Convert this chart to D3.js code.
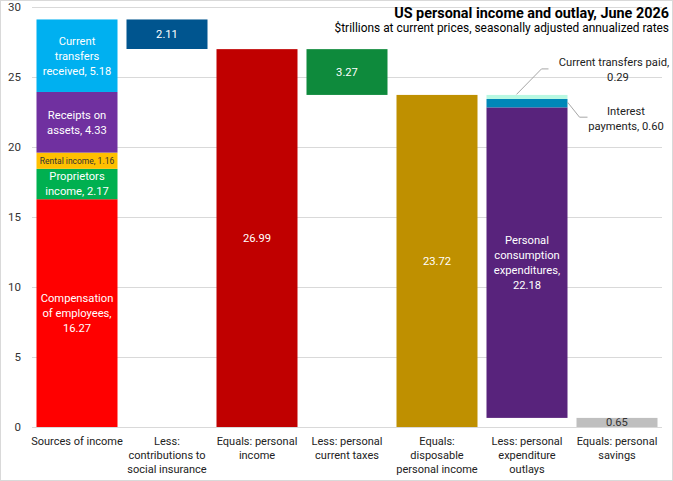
<!DOCTYPE html>
<html>
<head>
<meta charset="utf-8">
<script src="https://cdn.jsdelivr.net/npm/d3@7"></script>
<style>
  body { margin: 0; background: #fff; }
  svg text { font-family: "Liberation Sans Narrow", "Roboto", "DejaVu Sans Condensed", sans-serif; }
</style>
</head>
<body>
<svg id="chart"></svg>
<script>
// categories along x
var categories = ["Sources of income", "Less: contributions to social insurance", "Equals: personal income",
  "Less: personal current taxes", "Equals: disposable personal income", "Less: personal expenditure outlays",
  "Equals: personal savings"];
var categoryLines = [["Sources of income"], ["Less:", "contributions to", "social insurance"],
  ["Equals: personal", "income"], ["Less: personal", "current taxes"], ["Equals:", "disposable", "personal income"],
  ["Less: personal", "expenditure", "outlays"], ["Equals: personal", "savings"]];

// income sources (stacked, bottom to top)
var incomeParts = ["Compensation of employees", "Proprietors income", "Rental income", "Receipts on assets", "Current transfers received"];
var incomeValues = [16.27, 2.17, 1.16, 4.33, 5.18];
var incomeLabels = [["Compensation", "of employees,", "16.27"], ["Proprietors", "income, 2.17"], ["Rental income, 1.16"],
  ["Receipts on", "assets, 4.33"], ["Current", "transfers", "received, 5.18"]];

var contributions = 2.11;
var personalIncome = 26.99;
var taxes = 3.27;
var disposable = 23.72;

// outlays (stacked, bottom to top, sitting on savings)
var outlayParts = ["Personal consumption expenditures", "Interest payments", "Current transfers paid"];
var outlayValues = [22.18, 0.60, 0.29];
var savings = 0.65;

var yTicks = [0, 5, 10, 15, 20, 25, 30];

var W = 673, H = 481;
var FS = 11.2;
var svg = d3.select("#chart").attr("width", W).attr("height", H);

svg.append("rect").attr("x", 0.5).attr("y", 0.5).attr("width", W - 1).attr("height", H - 1)
  .attr("fill", "#fff").attr("stroke", "#d9d9d9");

var x = d3.scaleBand().domain(categories).range([32, 662]).paddingInner(0.1).paddingOuter(0.05);
var y = d3.scaleLinear().domain([0, 30]).range([427, 7]);

// grid + axis
var yAxis = d3.axisLeft(y).tickValues(yTicks).tickSize(-630).tickPadding(11);
var ga = svg.append("g").attr("transform", "translate(32,0)").call(yAxis);
ga.select(".domain").remove();
ga.selectAll(".tick line").attr("stroke", "#d9d9d9");
ga.selectAll(".tick text").attr("fill", "#333").attr("font-size", 11.5);

// build segments
var segs = [];
var acc = 0;
var incomeColors = ["#ff0000", "#00b050", "#ffc000", "#7030a0", "#00b0f0"];
incomeValues.forEach(function(v, i) {
  segs.push({cat: categories[0], y0: acc, y1: acc + v, color: incomeColors[i], lines: incomeLabels[i],
    size: i == 2 ? 8.5 : FS, tc: i == 2 ? "#333" : "#fff"});
  acc += v;
});
var total = acc;
segs.push({cat: categories[1], y0: total - contributions, y1: total, color: "#00558f", lines: [contributions.toFixed(2)], size: FS, tc: "#fff"});
segs.push({cat: categories[2], y0: 0, y1: personalIncome, color: "#c00000", lines: [personalIncome.toFixed(2)], size: FS, tc: "#fff"});
segs.push({cat: categories[3], y0: personalIncome - taxes, y1: personalIncome, color: "#0e8a3c", lines: [taxes.toFixed(2)], size: FS, tc: "#fff"});
segs.push({cat: categories[4], y0: 0, y1: disposable, color: "#bf9000", lines: [disposable.toFixed(2)], size: FS, tc: "#fff"});
var outlayColors = ["#58237c", "#0087b8", "#b8f8e2"];
acc = savings;
outlayValues.forEach(function(v, i) {
  segs.push({cat: categories[5], y0: acc, y1: acc + v, color: outlayColors[i],
    lines: i == 0 ? ["Personal", "consumption", "expenditures,", "22.18"] : [], size: FS, tc: "#fff"});
  acc += v;
});
segs.push({cat: categories[6], y0: 0, y1: savings, color: "#bfbfbf", lines: [savings.toFixed(2)], size: FS, tc: "#333"});

svg.append("g").selectAll("rect").data(segs).enter().append("rect")
  .attr("x", function(d) { return x(d.cat); })
  .attr("width", x.bandwidth())
  .attr("y", function(d) { return y(d.y1); })
  .attr("height", function(d) { return y(d.y0) - y(d.y1); })
  .attr("fill", function(d) { return d.color; });

// labels inside the bars
var lab = svg.append("g").selectAll("text").data(segs).enter().append("text")
  .attr("text-anchor", "middle")
  .attr("font-size", function(d) { return d.size; })
  .attr("fill", function(d) { return d.tc; })
  .attr("transform", function(d) {
    var cy = (y(d.y0) + y(d.y1)) / 2 - (d.lines.length - 1) * 7.5 + d.size * 0.35;
    return "translate(" + (x(d.cat) + x.bandwidth() / 2) + "," + cy + ")";
  });
lab.selectAll("tspan").data(function(d) { return d.lines; }).enter().append("tspan")
  .attr("x", 0).attr("dy", function(d, i) { return i == 0 ? 0 : 15; })
  .text(function(d) { return d; });

// category labels
var cl = svg.append("g").selectAll("text").data(categories).enter().append("text")
  .attr("text-anchor", "middle").attr("font-size", 11).attr("fill", "#222")
  .attr("transform", function(d) { return "translate(" + (x(d) + x.bandwidth() / 2) + ",445)"; });
cl.selectAll("tspan").data(function(d, i) { return categoryLines[i]; }).enter().append("tspan")
  .attr("x", 0).attr("dy", function(d, i) { return i == 0 ? 0 : 14.2; })
  .text(function(d) { return d; });

// callouts for the small outlay pieces
var ob = x(categories[5]);
var topY = y(savings + d3.sum(outlayValues));
var intY = y(savings + outlayValues[0] + outlayValues[1] / 2);
svg.append("path").attr("fill", "none").attr("stroke", "#a6a6a6")
  .attr("d", "M" + (ob + 30) + "," + (topY - 0.5) + "L" + (ob + 55) + "," + (topY - 26) + "L" + (ob + 62) + "," + (topY - 26));
svg.append("text").attr("x", 614).attr("y", topY - 29).attr("text-anchor", "middle").attr("font-size", FS).attr("fill", "#222")
  .text("Current transfers paid,");
svg.append("text").attr("x", 618).attr("y", topY - 14).attr("text-anchor", "middle").attr("font-size", FS).attr("fill", "#222")
  .text(outlayValues[2].toFixed(2));
svg.append("path").attr("fill", "none").attr("stroke", "#a6a6a6")
  .attr("d", "M" + (ob + x.bandwidth()) + "," + (intY - 1) + "L" + (ob + x.bandwidth() + 12) + "," + (intY + 14) + "L" + (ob + x.bandwidth() + 20) + "," + (intY + 14));
svg.append("text").attr("x", 626).attr("y", intY + 12).attr("text-anchor", "middle").attr("font-size", FS).attr("fill", "#222")
  .text("Interest");
svg.append("text").attr("x", 626).attr("y", intY + 27).attr("text-anchor", "middle").attr("font-size", FS).attr("fill", "#222")
  .text("payments, " + outlayValues[1].toFixed(2));

// title
svg.append("text").attr("x", 669).attr("y", 17.5).attr("text-anchor", "end").attr("font-size", 14.4)
  .attr("font-weight", "bold").attr("fill", "#000").text("US personal  income and outlay, June 2026");
svg.append("text").attr("x", 669).attr("y", 31.5).attr("text-anchor", "end").attr("font-size", 11.9)
  .attr("fill", "#000").text("$trillions at current prices, seasonally adjusted annualized rates");
</script>
</body>
</html>
